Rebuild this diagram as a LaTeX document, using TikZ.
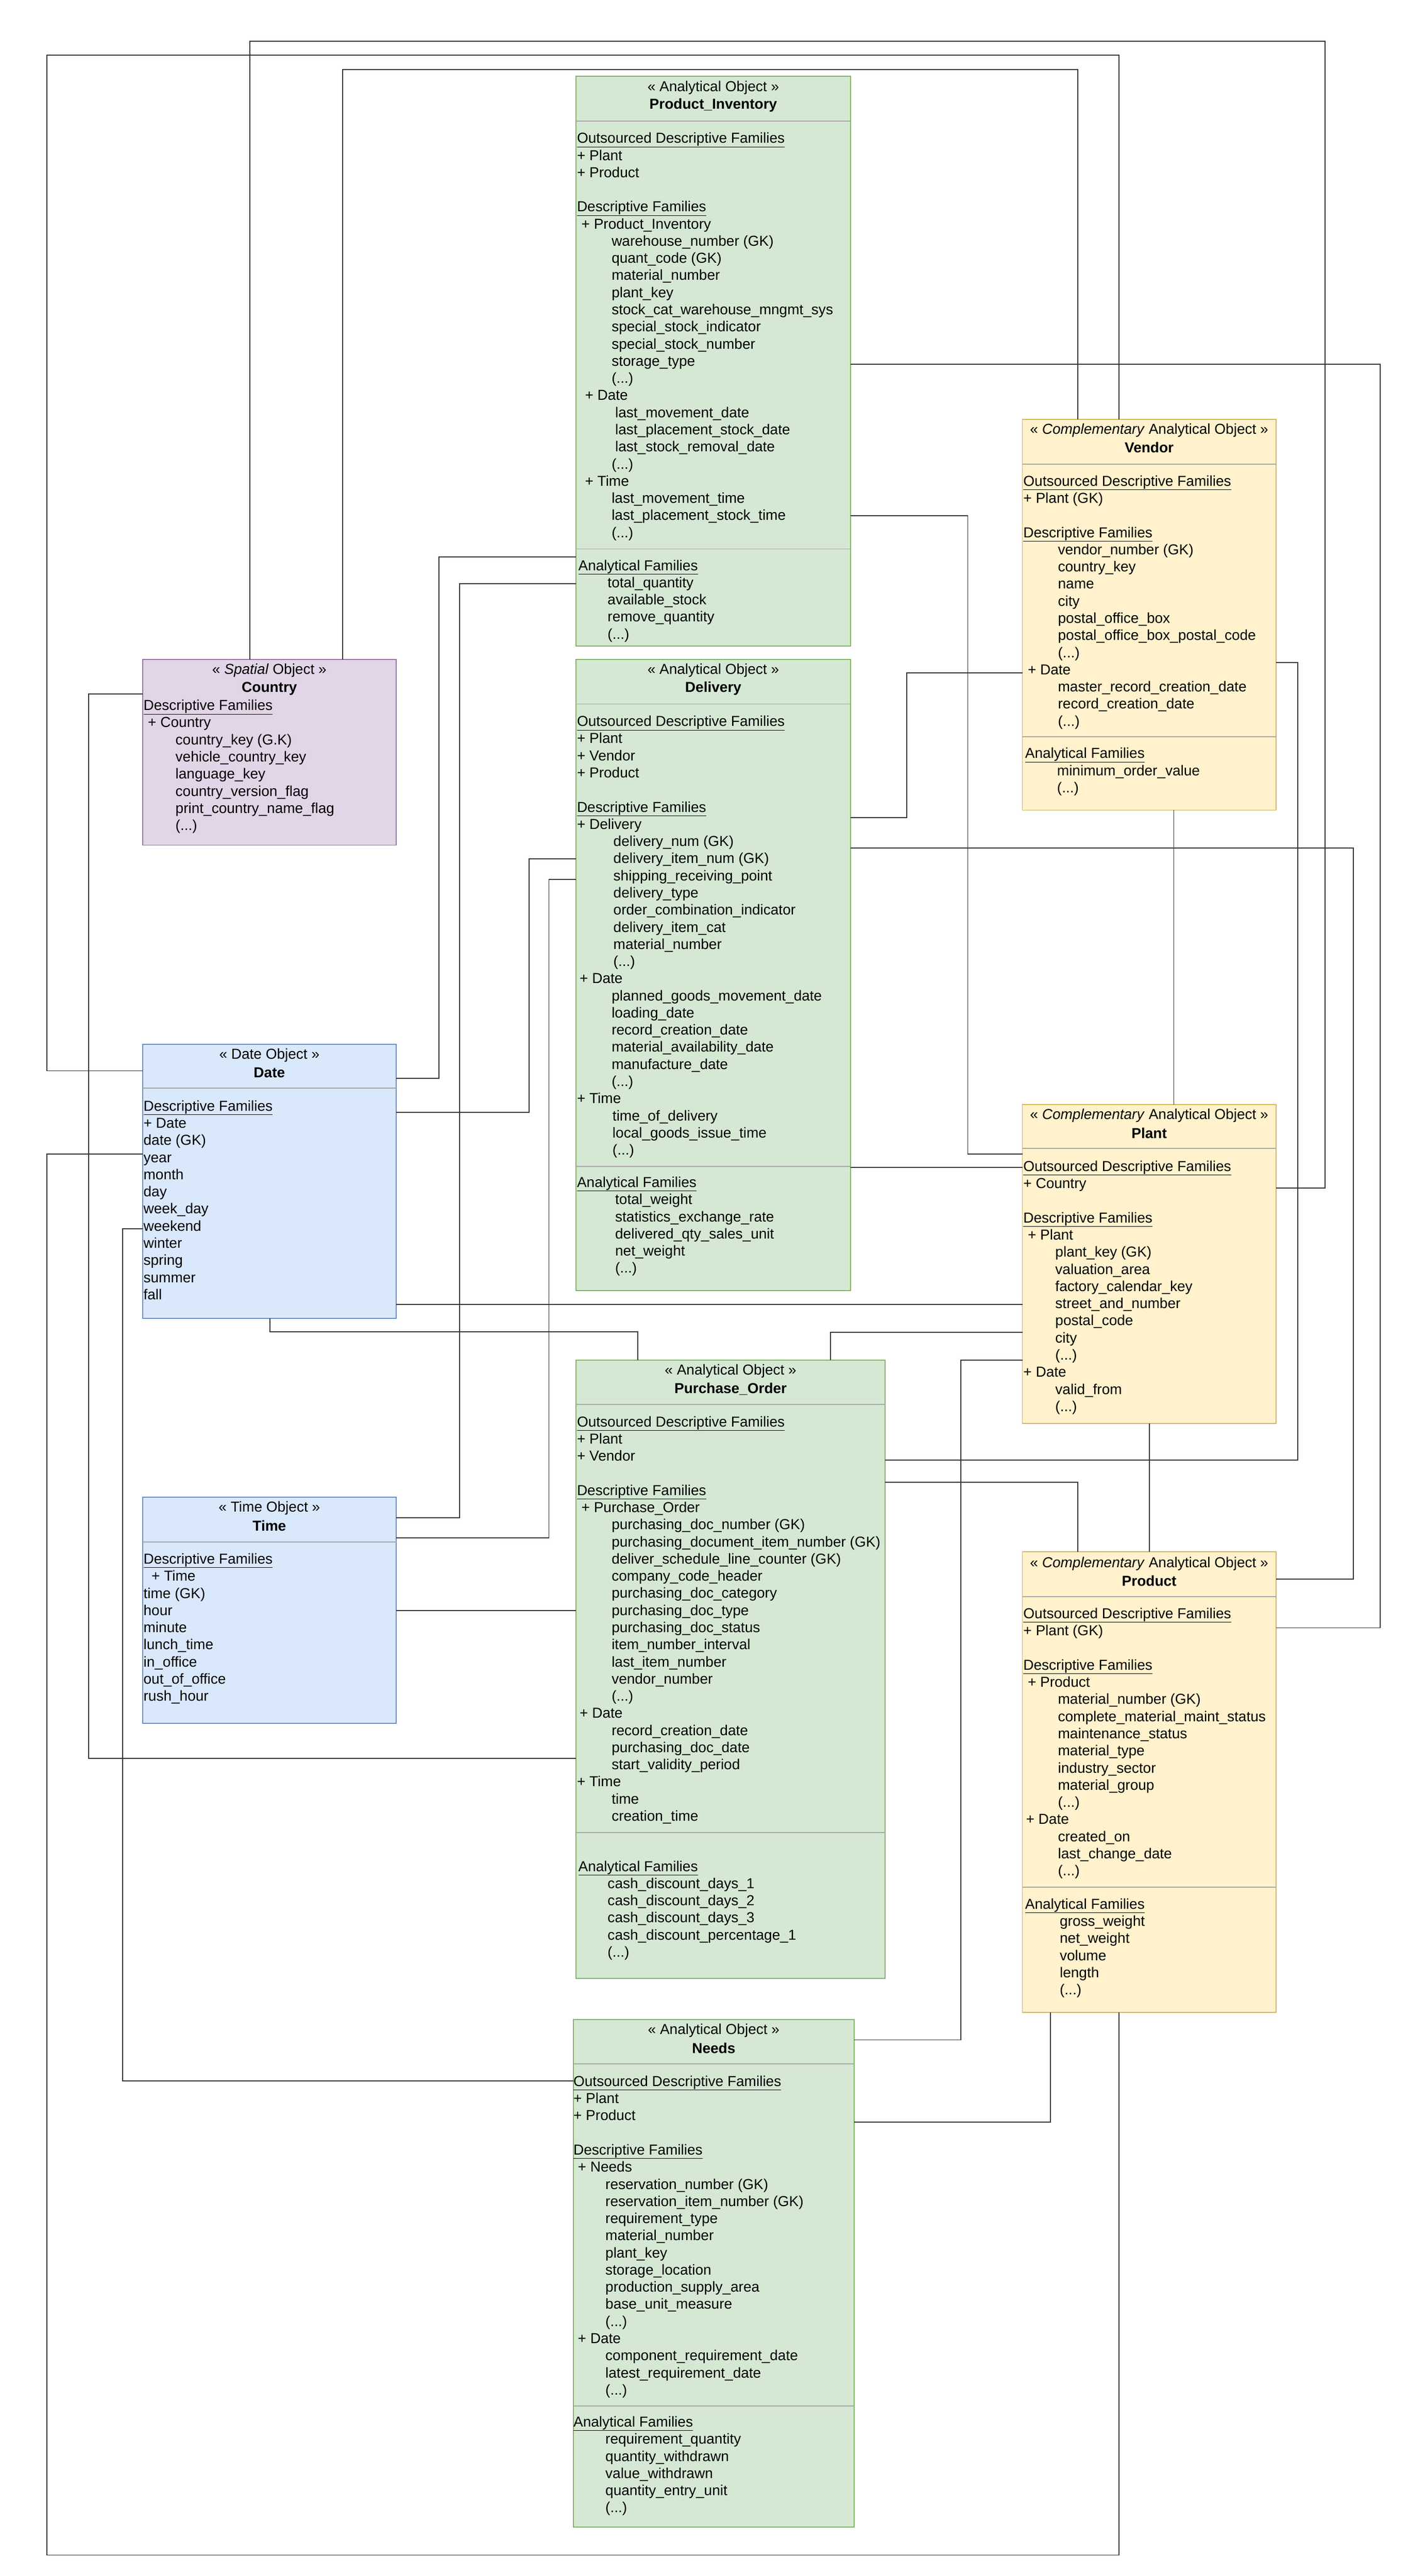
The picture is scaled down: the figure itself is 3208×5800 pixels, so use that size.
\documentclass[tikz,border=0pt]{standalone}
\usepackage{fontspec}
\setmainfont{Liberation Sans}
\newcommand\ia{\hspace*{78pt}}
\newcommand\ib{\hspace*{10pt}}
\newcommand\ic{\hspace*{18pt}}
\newcommand\ul[1]{\underline{#1}}
\begin{document}
\catcode`\_=12
\begin{tikzpicture}[x=1pt,y=-1pt,
  box/.style={draw, line width=2pt, anchor=north west, inner sep=0pt, outer sep=0pt},
  gbox/.style={box, fill=green!10!white, fill={rgb,255:red,213;green,232;blue,212}, draw={rgb,255:red,130;green,179;blue,102}},
  ybox/.style={box, fill={rgb,255:red,255;green,242;blue,204}, draw={rgb,255:red,214;green,182;blue,86}},
  bbox/.style={box, fill={rgb,255:red,218;green,232;blue,252}, draw={rgb,255:red,108;green,142;blue,191}},
  pbox/.style={box, fill={rgb,255:red,225;green,213;blue,231}, draw={rgb,255:red,150;green,115;blue,166}},
  div/.style={draw=gray!70, line width=2pt},
  hd/.style={font=\fontsize{32.5}{38.6}\selectfont, inner sep=0pt, anchor=center},
  hb/.style={hd, font=\fontsize{32.5}{38.6}\selectfont\bfseries},
  txt/.style={font=\fontsize{32.5}{38.6}\selectfont, align=left, inner sep=0pt, anchor=north west},
  con/.style={draw=black!80, line width=2.2pt}]
\useasboundingbox (0,0) rectangle (3208,5800);

% ---------- boxes
\node[gbox, minimum width=618pt, minimum height=1283pt] (pi) at (1297,172) {};
\node[pbox, minimum width=571pt, minimum height=418pt] (country) at (321,1485) {};
\node[gbox, minimum width=618pt, minimum height=1421pt] (delivery) at (1297,1485) {};
\node[ybox, minimum width=571pt, minimum height=880pt] (vendor) at (2302,944) {};
\node[bbox, minimum width=571pt, minimum height=617pt] (date) at (321,2351) {};
\node[ybox, minimum width=571pt, minimum height=718pt] (plant) at (2302,2487) {};
\node[gbox, minimum width=696pt, minimum height=1392pt] (po) at (1297,3062) {};
\node[bbox, minimum width=571pt, minimum height=509pt] (time) at (321,3371) {};
\node[ybox, minimum width=571pt, minimum height=1037pt] (product) at (2302,3494) {};
\node[gbox, minimum width=632pt, minimum height=1143pt] (needs) at (1291,4547) {};

% ---------- dividers
\foreach \b/\y in {pi/273, pi/1236, delivery/1585, delivery/2626, vendor/1045, vendor/1659, date/2450, plant/2586, po/3162, po/4126, time/3472, product/3595, product/4249, needs/4647, needs/5417}
  \draw[div] (\b.west |- 0,\y) -- (\b.east |- 0,\y);

% ---------- headers
\node[hd] (pih1) at (pi.north |- 0,198) {<< Analytical Object >>};
\node[hb] (pih2) at (pi.north |- 0,237) {Product_Inventory};
\node[hd] (coh1) at (country.north |- 0,1510) {<< \textit{Spatial} Object >>};
\node[hb] (coh2) at (country.north |- 0,1550) {Country};
\node[hd] (deh1) at (delivery.north |- 0,1510) {<< Analytical Object >>};
\node[hb] (deh2) at (delivery.north |- 0,1550) {Delivery};
\node[hd] (veh1) at (vendor.north |- 0,969) {<< \textit{Complementary} Analytical Object >>};
\node[hb] (veh2) at (vendor.north |- 0,1008) {Vendor};
\node[hd] (dah1) at (date.north |- 0,2376) {<< Date Object >>};
\node[hb] (dah2) at (date.north |- 0,2415) {Date};
\node[hd] (plh1) at (plant.north |- 0,2512) {<< \textit{Complementary} Analytical Object >>};
\node[hb] (plh2) at (plant.north |- 0,2551) {Plant};
\node[hd] (poh1) at (po.north |- 0,3087) {<< Analytical Object >>};
\node[hb] (poh2) at (po.north |- 0,3127) {Purchase_Order};
\node[hd] (tih1) at (time.north |- 0,3396) {<< Time Object >>};
\node[hb] (tih2) at (time.north |- 0,3435) {Time};
\node[hd] (prh1) at (product.north |- 0,3521) {<< \textit{Complementary} Analytical Object >>};
\node[hb] (prh2) at (product.north |- 0,3559) {Product};
\node[hd] (neh1) at (needs.north |- 0,4572) {<< Analytical Object >>};
\node[hb] (neh2) at (needs.north |- 0,4611) {Needs};

% ---------- contents
\node[txt] (pit1) at (1299,295) {\strut\ul{Outsourced Descriptive Families}\\+ Plant\\+ Product\\\mbox{}\\\ul{Descriptive Families}\\\ib+ Product_Inventory\\\ia warehouse_number (GK)\\\ia quant_code (GK)\\\ia material_number\\\ia plant_key\\\ia stock_cat_warehouse_mngmt_sys\\\ia special_stock_indicator\\\ia special_stock_number\\\ia storage_type\\\ia (...)\\\ic+ Date\\\hspace*{86pt}last_movement_date\\\hspace*{86pt}last_placement_stock_date\\\hspace*{86pt}last_stock_removal_date\\\ia (...)\\\ic+ Time\\\ia last_movement_time\\\ia last_placement_stock_time\\\ia (...)};
\node[txt] (pit2) at (1302,1257) {\strut\ul{Analytical Families}\\\hspace*{66pt}total_quantity\\\hspace*{66pt}available_stock\\\hspace*{66pt}remove_quantity\\\hspace*{66pt}(...)};

\node[txt] (cot1) at (323,1572) {\strut\ul{Descriptive Families}\\\ib+ Country\\\hspace*{72pt}country_key (G.K)\\\hspace*{72pt}vehicle_country_key\\\hspace*{72pt}language_key\\\hspace*{72pt}country_version_flag\\\hspace*{72pt}print_country_name_flag\\\hspace*{72pt}(...)};

\node[txt] (det1) at (1299,1608) {\strut\ul{Outsourced Descriptive Families}\\+ Plant\\+ Vendor\\+ Product\\\mbox{}\\\ul{Descriptive Families}\\+ Delivery\\\hspace*{82pt}delivery_num (GK)\\\hspace*{82pt}delivery_item_num (GK)\\\hspace*{82pt}shipping_receiving_point\\\hspace*{82pt}delivery_type\\\hspace*{82pt}order_combination_indicator\\\hspace*{82pt}delivery_item_cat\\\hspace*{82pt}material_number\\\hspace*{82pt}(...)\\\hspace*{6pt}+ Date\\\hspace*{78pt}planned_goods_movement_date\\\hspace*{78pt}loading_date\\\hspace*{78pt}record_creation_date\\\hspace*{78pt}material_availability_date\\\hspace*{78pt}manufacture_date\\\hspace*{78pt}(...)\\+ Time\\\hspace*{80pt}time_of_delivery\\\hspace*{80pt}local_goods_issue_time\\\hspace*{80pt}(...)};
\node[txt] (det2) at (1299,2646) {\strut\ul{Analytical Families}\\\hspace*{86pt}total_weight\\\hspace*{86pt}statistics_exchange_rate\\\hspace*{86pt}delivered_qty_sales_unit\\\hspace*{86pt}net_weight\\\hspace*{86pt}(...)};

\node[txt] (vet1) at (2304,1067) {\strut\ul{Outsourced Descriptive Families}\\+ Plant (GK)\\\mbox{}\\\ul{Descriptive Families}\\\ia vendor_number (GK)\\\ia country_key\\\ia name\\\ia city\\\ia postal_office_box\\\ia postal_office_box_postal_code\\\ia (...)\\\ib+ Date\\\ia master_record_creation_date\\\ia record_creation_date\\\ia (...)};
\node[txt] (vet2) at (2308,1680) {\strut\ul{Analytical Families}\\\hspace*{72pt}minimum_order_value\\\hspace*{72pt}(...)};

\node[txt] (dat1) at (323,2474) {\strut\ul{Descriptive Families}\\+ Date\\date (GK)\\year\\month\\day\\week_day\\weekend\\winter\\spring\\summer\\fall};

\node[txt] (plt1) at (2304,2610) {\strut\ul{Outsourced Descriptive Families}\\+ Country\\\mbox{}\\\ul{Descriptive Families}\\\ib+ Plant\\\hspace*{72pt}plant_key (GK)\\\hspace*{72pt}valuation_area\\\hspace*{72pt}factory_calendar_key\\\hspace*{72pt}street_and_number\\\hspace*{72pt}postal_code\\\hspace*{72pt}city\\\hspace*{72pt}(...)\\+ Date\\\hspace*{72pt}valid_from\\\hspace*{72pt}(...)};

\node[txt] (pot1) at (1299,3185) {\strut\ul{Outsourced Descriptive Families}\\+ Plant\\+ Vendor\\\mbox{}\\\ul{Descriptive Families}\\\ib+ Purchase_Order\\\ia purchasing_doc_number (GK)\\\ia purchasing_document_item_number (GK)\\\ia deliver_schedule_line_counter (GK)\\\ia company_code_header\\\ia purchasing_doc_category\\\ia purchasing_doc_type\\\ia purchasing_doc_status\\\ia item_number_interval\\\ia last_item_number\\\ia vendor_number\\\ia (...)\\\hspace*{6pt}+ Date\\\ia record_creation_date\\\ia purchasing_doc_date\\\ia start_validity_period\\+ Time\\\ia time\\\ia creation_time};
\node[txt] (pot2) at (1302,4186) {\strut\ul{Analytical Families}\\\hspace*{66pt}cash_discount_days_1\\\hspace*{66pt}cash_discount_days_2\\\hspace*{66pt}cash_discount_days_3\\\hspace*{66pt}cash_discount_percentage_1\\\hspace*{66pt}(...)};

\node[txt] (tit1) at (323,3494) {\strut\ul{Descriptive Families}\\\ic+ Time\\time (GK)\\hour\\minute\\lunch_time\\in_office\\out_of_office\\rush_hour};

\node[txt] (prt1) at (2304,3617) {\strut\ul{Outsourced Descriptive Families}\\+ Plant (GK)\\\mbox{}\\\ul{Descriptive Families}\\\ib+ Product\\\ia material_number (GK)\\\ia complete_material_maint_status\\\ia maintenance_status\\\ia material_type\\\ia industry_sector\\\ia material_group\\\ia (...)\\\hspace*{6pt}+ Date\\\ia created_on\\\ia last_change_date\\\ia (...)};
\node[txt] (prt2) at (2308,4271) {\strut\ul{Analytical Families}\\\ia gross_weight\\\ia net_weight\\\ia volume\\\ia length\\\ia (...)};

\node[txt] (net1) at (1291,4670) {\strut\ul{Outsourced Descriptive Families}\\+ Plant\\+ Product\\\mbox{}\\\ul{Descriptive Families}\\\ib+ Needs\\\hspace*{72pt}reservation_number (GK)\\\hspace*{72pt}reservation_item_number (GK)\\\hspace*{72pt}requirement_type\\\hspace*{72pt}material_number\\\hspace*{72pt}plant_key\\\hspace*{72pt}storage_location\\\hspace*{72pt}production_supply_area\\\hspace*{72pt}base_unit_measure\\\hspace*{72pt}(...)\\\ib+ Date\\\hspace*{72pt}component_requirement_date\\\hspace*{72pt}latest_requirement_date\\\hspace*{72pt}(...)};
\node[txt] (net2) at (1291,5437) {\strut\ul{Analytical Families}\\\hspace*{72pt}requirement_quantity\\\hspace*{72pt}quantity_withdrawn\\\hspace*{72pt}value_withdrawn\\\hspace*{72pt}quantity_entry_unit\\\hspace*{72pt}(...)};

% ---------- connectors
\draw[con] (country.north -| 563,0) |- (2983,93) |- (plant.east |- 0,2675);
\draw[con] (vendor.north -| 2519,0) |- (106,124) |- (date.west |- 0,2411);
\draw[con] (country.north -| 771,0) |- (2427,157) -- (vendor.north -| 2427,0);
\draw[con] (pi.east |- 0,820) -| (3108,3665) -- (product.east |- 0,3665);
\draw[con] (pi.east |- 0,1161) -| (2179,2598) -- (plant.west |- 0,2598);
\draw[con] (pi.west |- 0,1254) -| (988,2428) -- (date.east |- 0,2428);
\draw[con] (pi.west |- 0,1314) -| (1035,3417) -- (time.east |- 0,3417);
\draw[con] (vendor.west |- 0,1515) -| (2042,1841) -- (delivery.east |- 0,1841);
\draw[con] (vendor.east |- 0,1492) -| (2922,3287) -- (po.east |- 0,3287);
\draw[con] (delivery.east |- 0,1909) -| (3047,3555) -- (product.east |- 0,3555);
\draw[con] (vendor.south -| 2643,0) -- (plant.north -| 2643,0);
\draw[con] (delivery.west |- 0,1934) -| (1191,2504) -- (date.east |- 0,2504);
\draw[con] (delivery.west |- 0,1980) -| (1236,3463) -- (time.east |- 0,3463);
\draw[con] (date.west |- 0,2767) -| (276,4685) -- (needs.west |- 0,4685);
\draw[con] (date.east |- 0,2937) -- (plant.west |- 0,2937);
\draw[con] (date.south -| 608,0) |- (1436,2999) -- (po.north -| 1436,0);
\draw[con] (po.north -| 1870,0) |- (plant.west |- 0,3000);
\draw[con] (plant.west |- 0,3062) -| (2163,4593) -- (needs.east |- 0,4593);
\draw[con] (delivery.east |- 0,2629) -- (plant.west |- 0,2629);
\draw[con] (po.east |- 0,3337) -| (product.north -| 2427,0);
\draw[con] (plant.south -| 2588,0) -- (product.north -| 2588,0);
\draw[con] (time.east |- 0,3626) -- (po.west |- 0,3626);
\draw[con] (po.west |- 0,3959) -| (200,1563) -- (country.west |- 0,1563);
\draw[con] (product.south -| 2365,0) |- (needs.east |- 0,4778);
\draw[con] (product.south -| 2519,0) |- (106,5753) |- (date.west |- 0,2598);
\end{tikzpicture}
\end{document}
